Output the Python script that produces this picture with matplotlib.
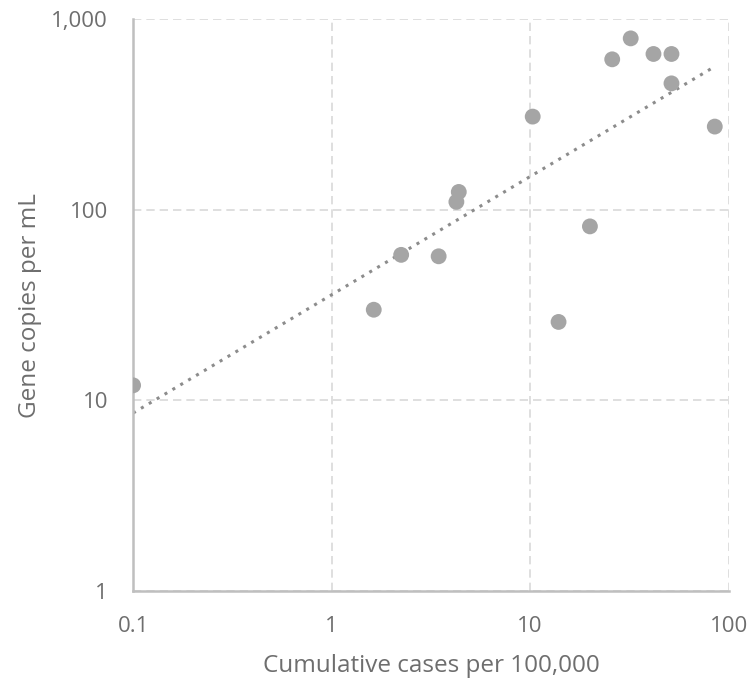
import numpy as np
import matplotlib.pyplot as plt
from matplotlib.ticker import FixedLocator, FixedFormatter, NullLocator

# data
cases = [0.1, 1.63, 2.24, 3.46, 4.25, 4.37, 10.3, 13.9, 20.0, 25.9, 32.1, 41.8, 51.5, 51.5, 85.1]
copies = [12.0, 29.9, 58, 57, 110, 124, 308, 25.8, 81.8, 615, 792, 656, 656, 460, 273]
xticks = [0.1, 1, 10, 100]
xticklabels = ['0.1', '1', '10', '100']
yticks = [1, 10, 100, 1000]
yticklabels = ['1', '10', '100', '1,000']

plt.rcParams['font.family'] = ['Open Sans', 'DejaVu Sans']
txt = '#6e6e6e'

fig = plt.figure(figsize=(7.52, 6.81), dpi=100)
ax = fig.add_axes([0.177, 0.132, 0.792, 0.840])

ax.scatter(cases, copies, s=130, color='#a5a5a5', edgecolors='none', zorder=3)

# power trendline, fit in log space
lx = np.log10(cases)
ly = np.log10(copies)
m, b = np.polyfit(lx, ly, 1)
xt = np.logspace(np.log10(0.1), np.log10(84), 50)
ax.plot(xt, 10**b * xt**m, linestyle=(0, (1, 2)), color='#8c8c8c', lw=2.2, zorder=2)

ax.set_xscale('log')
ax.set_yscale('log')
ax.set_xlim(0.1, 100)
ax.set_ylim(1, 1000)
ax.xaxis.set_major_locator(FixedLocator(xticks))
ax.xaxis.set_major_formatter(FixedFormatter(xticklabels))
ax.yaxis.set_major_locator(FixedLocator(yticks))
ax.yaxis.set_major_formatter(FixedFormatter(yticklabels))
ax.xaxis.set_minor_locator(NullLocator())
ax.yaxis.set_minor_locator(NullLocator())
ax.tick_params(length=0, labelsize=16, colors=txt)
ax.tick_params(axis='x', pad=18)
ax.tick_params(axis='y', pad=18)

ax.grid(True, linestyle=(0, (5, 3)), color='#d9d9d9', lw=1.2)
for s in ['top', 'right']:
    ax.spines[s].set_visible(False)
for s in ['left', 'bottom']:
    ax.spines[s].set_color('#bfbfbf')
    ax.spines[s].set_linewidth(1.8)
ax.set_axisbelow(True)

ax.set_xlabel('Cumulative cases per 100,000', fontsize=17.5, color=txt, labelpad=12)
ax.set_ylabel('Gene copies per mL', fontsize=17.5, color=txt, labelpad=7)

fig.savefig('out.png', dpi=100)
